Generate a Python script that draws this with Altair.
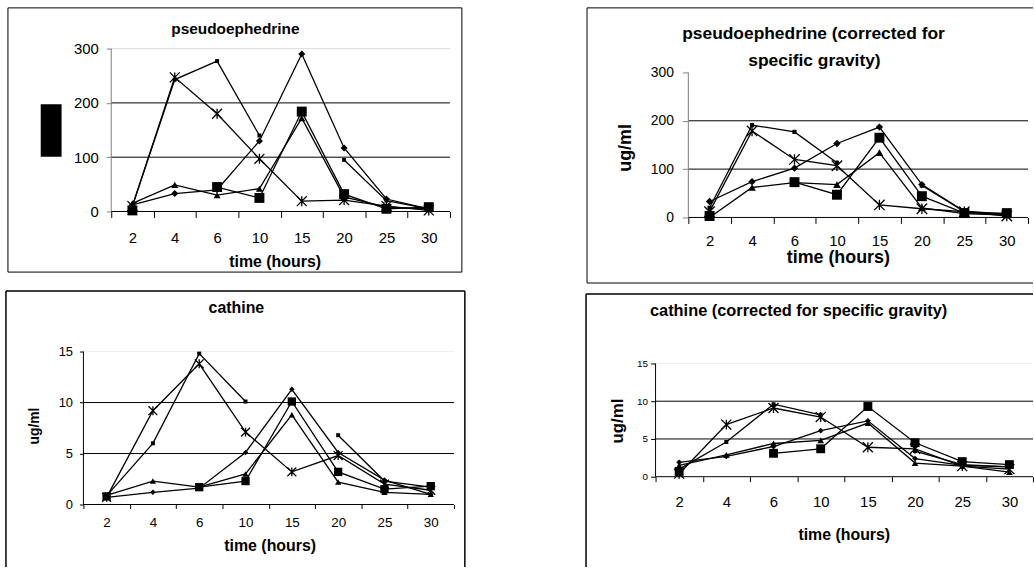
import altair as alt
import pandas as pd

FONT = "Liberation Sans"
STAR = "M-1,-1L1,1M-1,1L1,-1M0,-1L0,1"

times = ["2", "4", "6", "10", "15", "20", "25", "30"]
series = ["diamond", "small square", "square", "triangle", "asterisk"]
shapes = ["diamond", "square", "square", "triangle-up", STAR]

# pseudoephedrine (ug/ml)
pse_diamond = [12, 33, 40, 130, 290, 117, 23, 5]
pse_small = [10, 243, 277, 140, None, 95, 20, 5]
pse_square = [2, None, 45, 25, 184, 32, 5, 8]
pse_triangle = [15, 49, 30, 42, 172, 27, 8, 5]
pse_star = [10, 247, 180, 97, 19, 21, 10, 2]

# pseudoephedrine corrected for specific gravity
psc_diamond = [33, 74, 102, 153, 187, 68, 13, 7]
psc_small = [20, 191, 177, 113, None, 66, 12, 6]
psc_square = [3, None, 73, 47, 165, 44, 9, 9]
psc_triangle = [0, 62, 72, 68, 134, 20, 8, 5]
psc_star = [12, 179, 120, 107, 26, 18, 12, 3]

# cathine (ug/ml)
cat_diamond = [0.7, 1.2, 1.6, 5.1, 11.3, 5.1, 2.4, 1.0]
cat_small = [0.85, 6.0, 14.8, 10.1, None, 6.8, 2.3, 1.7]
cat_square = [0.8, None, 1.7, 2.3, 10.1, 3.2, 1.5, 1.8]
cat_triangle = [0.9, 2.3, 1.7, 3.0, 8.8, 2.2, 1.2, 1.0]
cat_star = [0.7, 9.2, 13.8, 7.1, 3.2, 4.8, 2.0, 1.4]

# cathine corrected for specific gravity
cac_diamond = [1.9, 2.7, 4.0, 6.1, 7.4, 2.4, 1.5, 1.3]
cac_small = [1.0, 4.6, 9.6, 8.2, None, 3.4, 1.6, 1.3]
cac_square = [0.7, None, 3.1, 3.7, 9.3, 4.5, 2.0, 1.6]
cac_triangle = [1.5, 2.9, 4.4, 4.8, 7.1, 1.8, 1.4, 0.6]
cac_star = [0.4, 6.9, 9.1, 7.9, 3.9, 3.7, 1.4, 1.0]

pse_ticks = [0, 100, 200, 300]
cat_ticks = [0, 5, 10, 15]

one = alt.Data(values=[{"k": 0}])

# grid of views (page pixels): columns and rows of the 2x2 layout
COL_X = [84, 653]
COL_W = [373, 380]
ROW_Y = [47, 352]
ROW_H = [170, 154]


def table(cols):
    rows = []
    for name, vals in zip(series, cols):
        seg = 0
        for t, v in zip(times, vals):
            if v is None:
                seg += 1
                continue
            rows.append({"time": t, "series": name, "segment": f"{name}-{seg}", "value": v})
    return pd.DataFrame(rows)


def panel(cols, P):
    c, r = P["cell"]
    vx, vy, W, H = COL_X[c], ROW_Y[r], COL_W[c], ROW_H[r]
    L, R, T, B = P["plot"]  # page pixels of the plot area
    L, R, T, B = L - vx, R - vx, T - vy, B - vy
    ticks = P["ticks"]
    ymax = ticks[-1]
    n = len(times)
    step = (R - L) / n
    extra = W - (R - L)
    pad = extra / (2 * step)
    align = L / extra if extra > 0 else 0.5
    k = (B - T) / ymax
    d1 = ymax + T / k
    d0 = -(H - B) / k

    xscale = alt.Scale(type="band", domain=times, paddingInner=0, paddingOuter=pad, align=align)
    yscale = alt.Scale(domain=[d0, d1], nice=False, zero=False)
    xaxis = alt.Axis(title=None, tickBand="extent", labelAngle=0, grid=False, domain=False,
                     tickColor="black", tickWidth=1, tickSize=P["xtick"], labelPadding=P["xpad"],
                     labelFont=FONT, labelFontSize=P["xfs"], labelColor="black",
                     offset=B - H)
    yaxis = alt.Axis(title=None, values=ticks, grid=False, domain=False, tickColor=P["ycol"],
                     tickSize=P["ytick"], labelPadding=P["ypad"], labelFont=FONT,
                     labelFontSize=P["yfs"], labelColor="black", offset=-L)

    def X(field="time:N"):
        return alt.X(field, scale=xscale, axis=xaxis)

    def Y(field="value:Q"):
        return alt.Y(field, scale=yscale, axis=yaxis)

    df = table(cols)
    base = alt.Chart(df).encode(x=X(), y=Y())
    lines = base.mark_line(color="black", strokeWidth=1.3).encode(detail="segment:N")
    markers = []
    for name, shp, sz in zip(series, shapes, P["sizes"]):
        if shp == STAR:
            mk = dict(shape=shp, filled=False, opacity=1, color="black", strokeWidth=1.3, size=sz)
        else:
            mk = dict(shape=shp, filled=True, opacity=1, color="black", strokeWidth=0, size=sz)
        markers.append(base.transform_filter(alt.datum.series == name).mark_point(**mk))

    grid = alt.Chart(pd.DataFrame({"value": ticks[1:]})).mark_rule(strokeWidth=1).encode(
        y=Y(), x=alt.value(L), x2=alt.value(R),
        color=alt.condition(f"datum.value >= {ymax}", alt.value(P["topgrid"]), alt.value("black")),
    )
    xline = alt.Chart(one).mark_rule(color="black", strokeWidth=1).encode(
        y=alt.YDatum(0), x=alt.value(L), x2=alt.value(R))
    yline = alt.Chart(one).mark_rule(color=P["ycol"], strokeWidth=1).encode(
        x=alt.value(L), y=alt.YDatum(0), y2=alt.Y2Datum(ymax))

    layers = []
    for (x1, x2, y1, y2) in P.get("anchors", []):
        layers.append(alt.Chart(one).mark_rect(opacity=0).encode(
            x=alt.value(x1 - vx), x2=alt.value(x2 - vx),
            y=alt.value(y1 - vy), y2=alt.value(y2 - vy)))
    for (x1, y1, x2, y2) in P["borders"]:
        enc = {"x": alt.value(x1 - vx), "y": alt.value(y1 - vy)}
        if x2 != x1:
            enc["x2"] = alt.value(x2 - vx)
        if y2 != y1:
            enc["y2"] = alt.value(y2 - vy)
        layers.append(alt.Chart(one).mark_rule(color="black", strokeWidth=P["bw"]).encode(**enc))
    if "blackbox" in P:
        x1, x2, y1, y2 = P["blackbox"]
        layers.append(alt.Chart(one).mark_rect(color="black", opacity=1).encode(
            x=alt.value(x1 - vx), x2=alt.value(x2 - vx),
            y=alt.value(y1 - vy), y2=alt.value(y2 - vy)))
    layers += [grid, yline, lines] + markers + [xline]
    for t in P["texts"]:
        s, x, y, fs = t[:4]
        ang = t[4] if len(t) > 4 else 0
        layers.append(alt.Chart(one).mark_text(
            text=s, font=FONT, fontSize=fs, fontWeight="bold", angle=ang,
            align="center", baseline="middle", color="black"
        ).encode(x=alt.value(x - vx), y=alt.value(y - vy)))
    return alt.layer(*layers).properties(width=W, height=H)


# marker sizes, in order: diamond, small square, square, triangle, asterisk
P1 = dict(cell=(0, 0), plot=(112, 453, 47, 211), ticks=pse_ticks,
          xtick=6, xpad=13, xfs=15, ytick=5, ypad=8, yfs=15, ycol="#808080", topgrid="#dddddd",
          sizes=[50, 16, 100, 50, 100], bw=1,
          anchors=[(0, 4, 0, 4)],
          borders=[(8, 6, 465, 6), (8, 272, 465, 272), (8, 6, 8, 272), (465, 6, 465, 272)],
          blackbox=(41, 62, 103, 156),
          texts=[("pseudoephedrine", 237, 27, 15.5), ("time (hours)", 277, 262, 16)])

P2 = dict(cell=(1, 0), plot=(686, 1028, 71, 217), ticks=pse_ticks,
          xtick=6, xpad=10, xfs=15, ytick=6, ypad=9, yfs=14, ycol="#808080", topgrid="#ffffff",
          sizes=[55, 18, 100, 60, 110], bw=1,
          borders=[(584, 6, 1033, 6), (584, 283, 1033, 283), (584, 6, 584, 283)],
          texts=[("pseudoephedrine (corrected for", 812, 32, 17.5),
                 ("specific gravity)", 813, 60, 17.5),
                 ("ug/ml", 623, 147, 18, 270),
                 ("time (hours)", 837, 258, 18)])

P3 = dict(cell=(0, 1), plot=(84, 457, 352, 506), ticks=cat_ticks,
          xtick=4, xpad=7, xfs=13.5, ytick=4, ypad=7, yfs=13, ycol="black", topgrid="#eeeeee",
          sizes=[30, 16, 70, 40, 80], bw=1.5,
          borders=[(6, 291, 468, 291), (6, 291, 6, 569), (468, 291, 468, 569)],
          texts=[("cathine", 238, 308, 16), ("ug/ml", 35, 427, 14, 270),
                 ("time (hours)", 272, 548, 16)])

P4 = dict(cell=(1, 1), plot=(653, 1033, 364, 478), ticks=cat_ticks,
          xtick=5, xpad=13, xfs=15, ytick=5, ypad=3, yfs=10, ycol="black", topgrid="#eeeeee",
          sizes=[35, 16, 80, 45, 100], bw=1.5,
          anchors=[(1030, 1034, 566, 570)],
          borders=[(583, 294, 1033, 294), (583, 294, 583, 569)],
          texts=[("cathine (corrected for specific gravity)", 797, 311, 16.5),
                 ("ug/ml", 615, 422, 17, 270), ("time (hours)", 843, 537, 16)])

p1 = panel([pse_diamond, pse_small, pse_square, pse_triangle, pse_star], P1)
p2 = panel([psc_diamond, psc_small, psc_square, psc_triangle, psc_star], P2)
p3 = panel([cat_diamond, cat_small, cat_square, cat_triangle, cat_star], P3)
p4 = panel([cac_diamond, cac_small, cac_square, cac_triangle, cac_star], P4)

chart = alt.concat(
    p1, p2, p3, p4, columns=2,
    spacing={"row": ROW_Y[1] - ROW_Y[0] - ROW_H[0], "column": COL_X[1] - COL_X[0] - COL_W[0]},
    bounds="flush", align="all",
).properties(padding=0, background="white").configure_view(strokeOpacity=0)

chart.save("out.html", embed_options={"renderer": "svg", "actions": False})
